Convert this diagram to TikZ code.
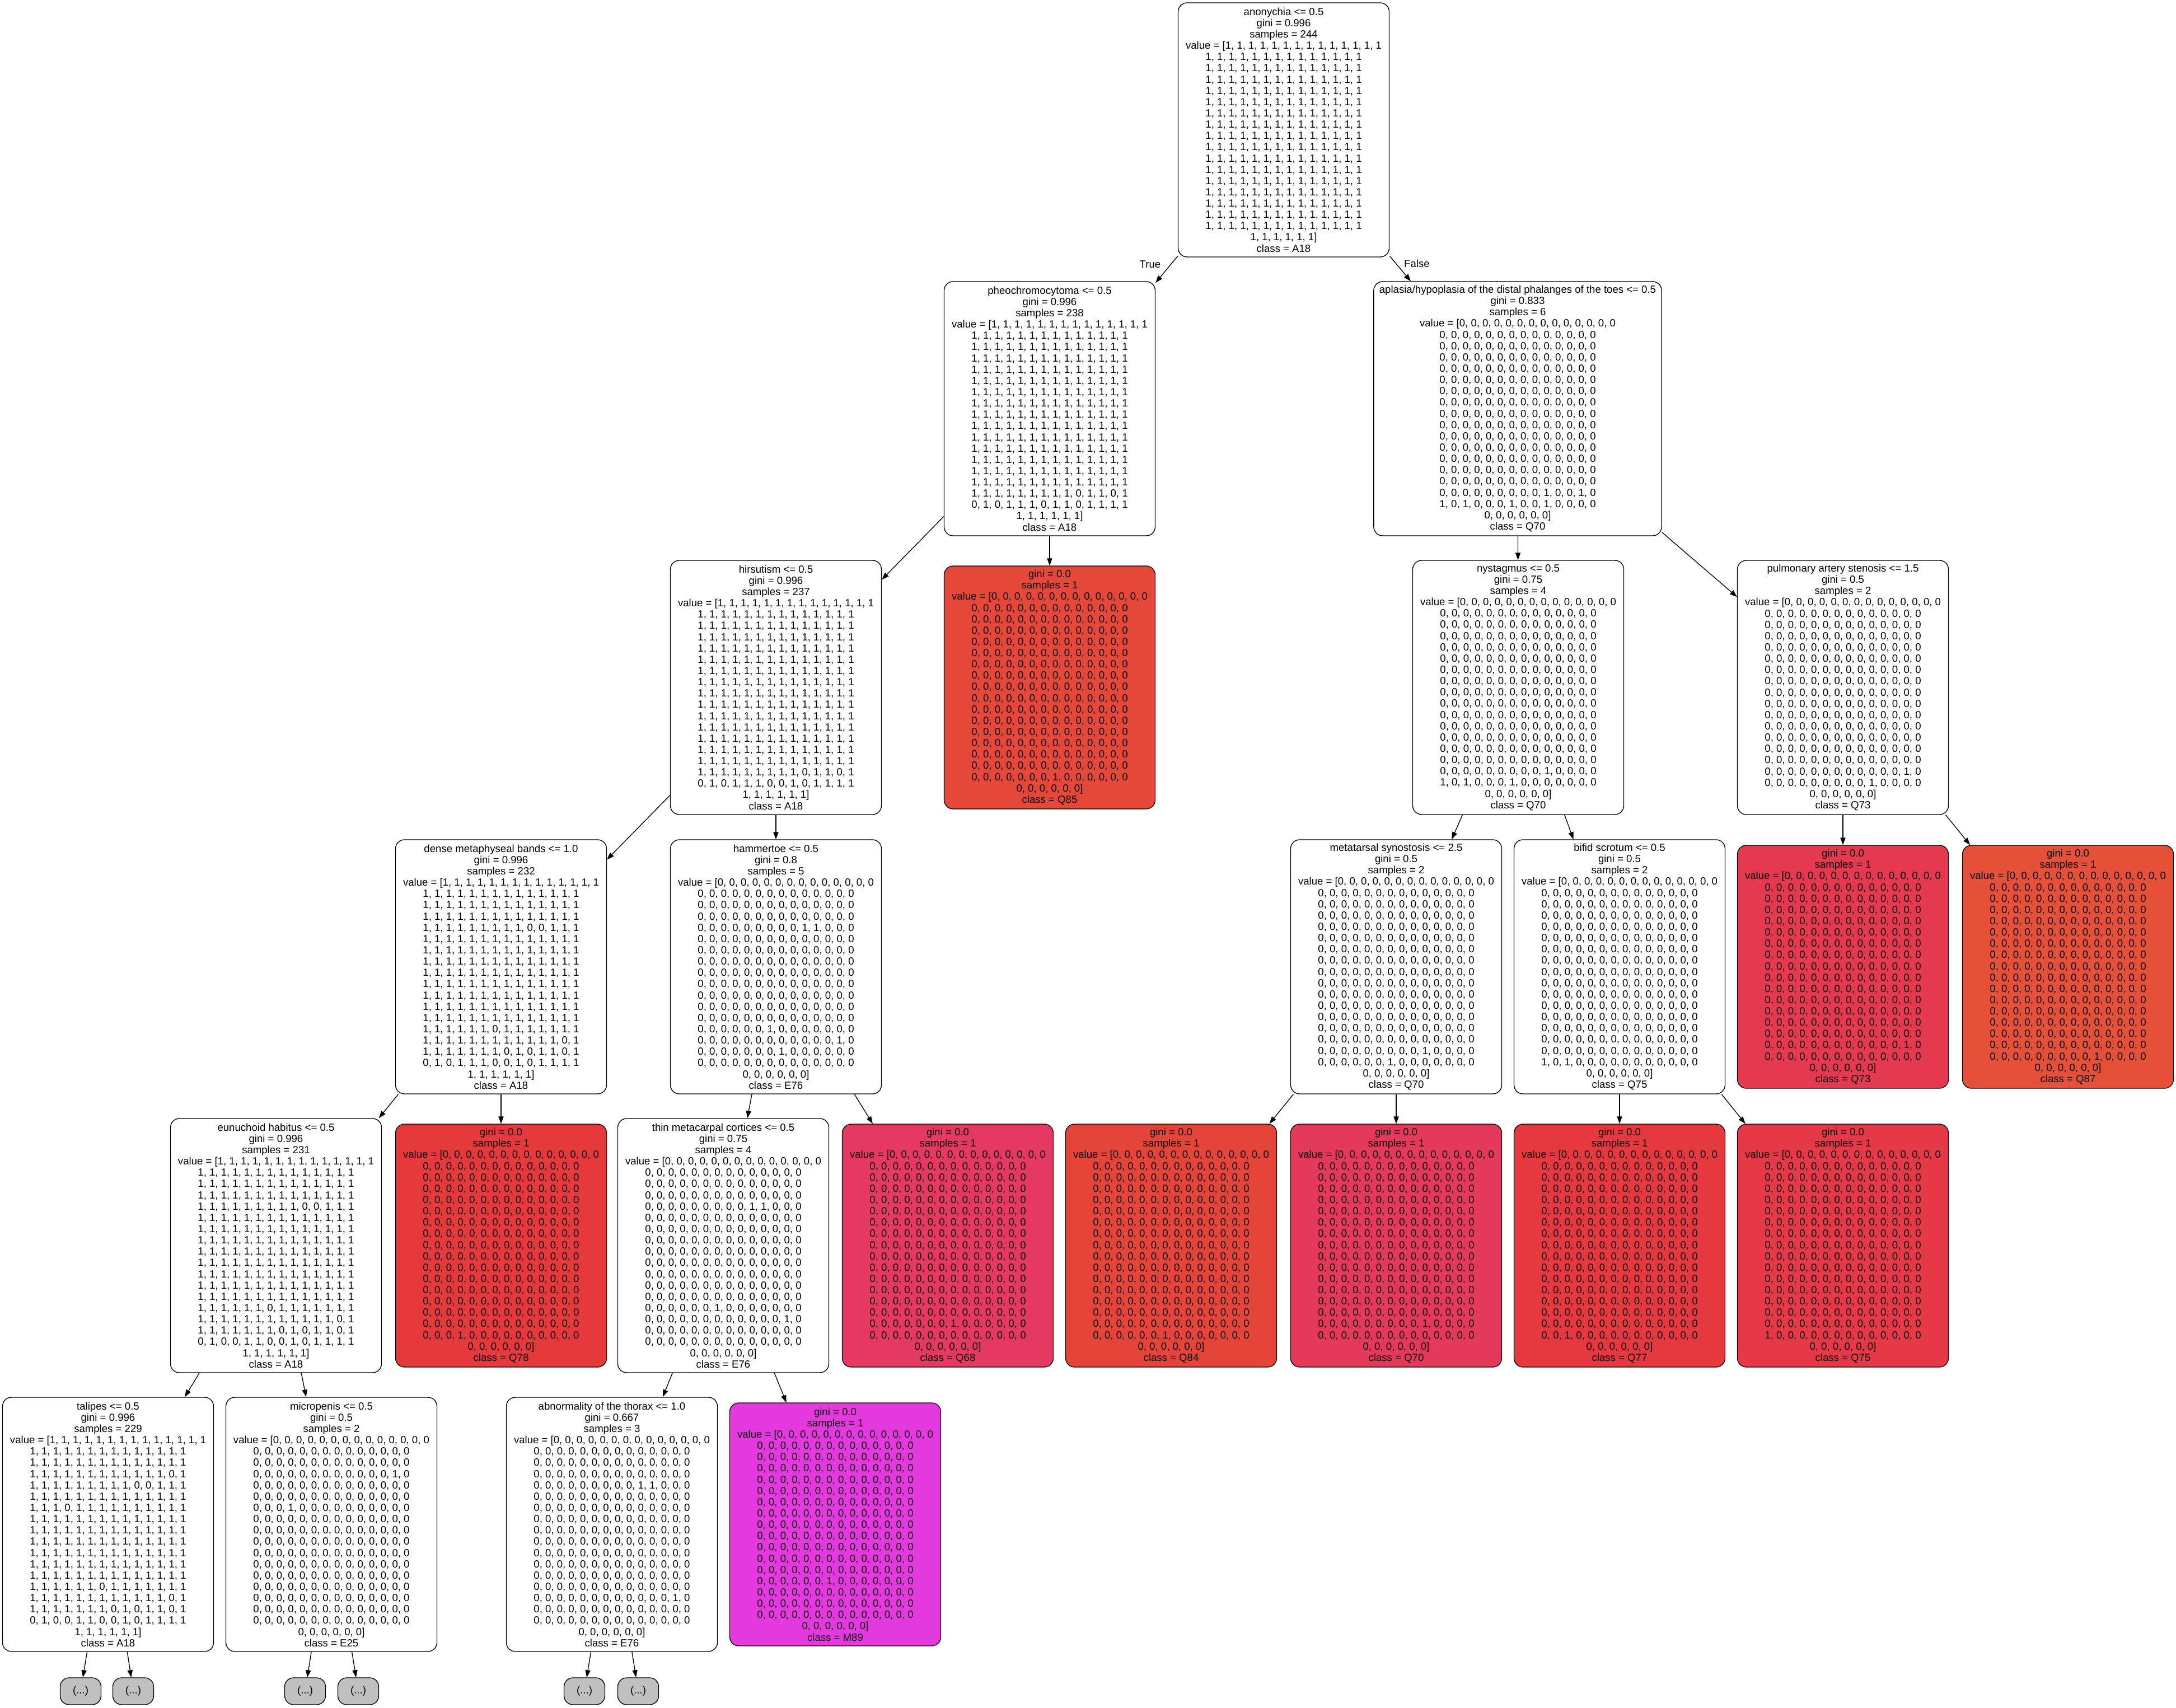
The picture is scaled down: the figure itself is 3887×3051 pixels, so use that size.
\documentclass[tikz,border=0pt]{standalone}
\usepackage{fontspec}
\setmainfont{Liberation Sans}
\usepackage{xcolor}
\usetikzlibrary{arrows.meta}

% class colours of the leaves
\definecolor{cQ68}{RGB}{229,57,100}
\definecolor{cQ70}{RGB}{229,57,92}
\definecolor{cQ73}{RGB}{229,57,80}
\definecolor{cQ75}{RGB}{229,57,72}
\definecolor{cQ77}{RGB}{229,57,63}
\definecolor{cQ78}{RGB}{229,57,60}
\definecolor{cQ84}{RGB}{229,69,57}
\definecolor{cQ85}{RGB}{229,72,57}
\definecolor{cQ87}{RGB}{229,80,57}
\definecolor{cM89}{RGB}{229,57,224}
\definecolor{truncgray}{RGB}{192,192,192}

% rows of the value arrays
\newcommand\orow{1, 1, 1, 1, 1, 1, 1, 1, 1, 1, 1, 1, 1, 1}
\newcommand\zrow{0, 0, 0, 0, 0, 0, 0, 0, 0, 0, 0, 0, 0, 0}
\newcommand\olast{1, 1, 1, 1, 1, 1]}
\newcommand\zlast{0, 0, 0, 0, 0, 0]}
\ExplSyntaxOn
\NewDocumentCommand\orows{m}{\prg_replicate:nn{#1}{\orow\\}}
\NewDocumentCommand\zrows{m}{\prg_replicate:nn{#1}{\zrow\\}}
\ExplSyntaxOff

\begin{document}
\begin{tikzpicture}[
        x=0.5pt, y=-0.5pt,
        every node/.style = {font=\fontsize{9.3}{10.07}\selectfont},
        decision/.style = {rectangle, draw=black, line width=0.67pt, rounded corners=8pt, fill=white, align=center, minimum width=188.5pt, minimum height=227pt, inner xsep=5pt, inner ysep=2pt},
        leafbox/.style = {decision, fill=#1, minimum height=217pt},
        morebox/.style = {rectangle, draw=black, line width=0.67pt, rounded corners=8pt, fill=truncgray, minimum width=36.5pt, minimum height=24pt, inner sep=1pt},
        link/.style = {line width=0.67pt, -{Triangle[length=6.5pt, width=4.6pt]}},
        branch/.style = {inner sep=1pt}
    ]
    \useasboundingbox (0,0) rectangle (3887,3051);

    % --- rank 0 and 1 ---
    \node[decision] (anonychia) at (2293,232) {anonychia <= 0.5\\gini = 0.996\\samples = 244\\value = [\orow\\\orows{16}\olast\\class = A18};

    \node[decision] (pheo) at (1875,730) {pheochromocytoma <= 0.5\\gini = 0.996\\samples = 238\\value = [\orow\\\orows{14}1, 1, 1, 1, 1, 1, 1, 1, 1, 0, 1, 1, 0, 1\\0, 1, 0, 1, 1, 1, 0, 1, 1, 0, 1, 1, 1, 1\\\olast\\class = A18};
    \node[decision] (aplasia) at (2711,730) {aplasia/hypoplasia of the distal phalanges of the toes <= 0.5\\gini = 0.833\\samples = 6\\value = [\zrow\\\zrows{14}0, 0, 0, 0, 0, 0, 0, 0, 0, 1, 0, 0, 1, 0\\1, 0, 1, 0, 0, 0, 1, 0, 0, 1, 0, 0, 0, 0\\\zlast\\class = Q70};

    % --- rank 2 ---
    \node[decision] (hirsutism) at (1386,1228) {hirsutism <= 0.5\\gini = 0.996\\samples = 237\\value = [\orow\\\orows{14}1, 1, 1, 1, 1, 1, 1, 1, 1, 0, 1, 1, 0, 1\\0, 1, 0, 1, 1, 1, 0, 0, 1, 0, 1, 1, 1, 1\\\olast\\class = A18};
    \node[leafbox=cQ85] (leafQ85) at (1875,1228) {gini = 0.0\\samples = 1\\value = [\zrow\\\zrows{15}0, 0, 0, 0, 0, 0, 0, 1, 0, 0, 0, 0, 0, 0\\\zlast\\class = Q85};
    \node[decision] (nystagmus) at (2712,1228) {nystagmus <= 0.5\\gini = 0.75\\samples = 4\\value = [\zrow\\\zrows{14}0, 0, 0, 0, 0, 0, 0, 0, 0, 1, 0, 0, 0, 0\\1, 0, 1, 0, 0, 0, 1, 0, 0, 0, 0, 0, 0, 0\\\zlast\\class = Q70};
    \node[decision] (pulmonary) at (3292,1228) {pulmonary artery stenosis <= 1.5\\gini = 0.5\\samples = 2\\value = [\zrow\\\zrows{14}0, 0, 0, 0, 0, 0, 0, 0, 0, 0, 0, 0, 1, 0\\0, 0, 0, 0, 0, 0, 0, 0, 0, 1, 0, 0, 0, 0\\\zlast\\class = Q73};

    % --- rank 3 ---
    \node[decision] (dense) at (895,1727) {dense metaphyseal bands <= 1.0\\gini = 0.996\\samples = 232\\value = [\orow\\\orows{3}1, 1, 1, 1, 1, 1, 1, 1, 1, 0, 0, 1, 1, 1\\\orows{8}1, 1, 1, 1, 1, 1, 0, 1, 1, 1, 1, 1, 1, 1\\1, 1, 1, 1, 1, 1, 1, 1, 1, 1, 1, 1, 0, 1\\1, 1, 1, 1, 1, 1, 1, 0, 1, 0, 1, 1, 0, 1\\0, 1, 0, 1, 1, 1, 0, 0, 1, 0, 1, 1, 1, 1\\\olast\\class = A18};
    \node[decision] (hammertoe) at (1386,1727) {hammertoe <= 0.5\\gini = 0.8\\samples = 5\\value = [\zrow\\\zrows{3}0, 0, 0, 0, 0, 0, 0, 0, 0, 1, 1, 0, 0, 0\\\zrows{8}0, 0, 0, 0, 0, 0, 1, 0, 0, 0, 0, 0, 0, 0\\0, 0, 0, 0, 0, 0, 0, 0, 0, 0, 0, 0, 1, 0\\0, 0, 0, 0, 0, 0, 0, 1, 0, 0, 0, 0, 0, 0\\\zrow\\\zlast\\class = E76};
    \node[decision] (metatarsal) at (2494,1727) {metatarsal synostosis <= 2.5\\gini = 0.5\\samples = 2\\value = [\zrow\\\zrows{14}0, 0, 0, 0, 0, 0, 0, 0, 0, 1, 0, 0, 0, 0\\0, 0, 0, 0, 0, 0, 1, 0, 0, 0, 0, 0, 0, 0\\\zlast\\class = Q70};
    \node[decision] (bifid) at (2893,1727) {bifid scrotum <= 0.5\\gini = 0.5\\samples = 2\\value = [\zrow\\\zrows{15}1, 0, 1, 0, 0, 0, 0, 0, 0, 0, 0, 0, 0, 0\\\zlast\\class = Q75};
    \node[leafbox=cQ73] (leafQ73) at (3292,1727) {gini = 0.0\\samples = 1\\value = [\zrow\\\zrows{14}0, 0, 0, 0, 0, 0, 0, 0, 0, 0, 0, 0, 1, 0\\\zrow\\\zlast\\class = Q73};
    \node[leafbox=cQ87] (leafQ87) at (3694,1727) {gini = 0.0\\samples = 1\\value = [\zrow\\\zrows{15}0, 0, 0, 0, 0, 0, 0, 0, 0, 1, 0, 0, 0, 0\\\zlast\\class = Q87};

    % --- rank 4 ---
    \node[decision] (eunuchoid) at (493,2225) {eunuchoid habitus <= 0.5\\gini = 0.996\\samples = 231\\value = [\orow\\\orows{3}1, 1, 1, 1, 1, 1, 1, 1, 1, 0, 0, 1, 1, 1\\\orows{8}1, 1, 1, 1, 1, 1, 0, 1, 1, 1, 1, 1, 1, 1\\1, 1, 1, 1, 1, 1, 1, 1, 1, 1, 1, 1, 0, 1\\1, 1, 1, 1, 1, 1, 1, 0, 1, 0, 1, 1, 0, 1\\0, 1, 0, 0, 1, 1, 0, 0, 1, 0, 1, 1, 1, 1\\\olast\\class = A18};
    \node[leafbox=cQ78] (leafQ78) at (895,2225) {gini = 0.0\\samples = 1\\value = [\zrow\\\zrows{15}0, 0, 0, 1, 0, 0, 0, 0, 0, 0, 0, 0, 0, 0\\\zlast\\class = Q78};
    \node[decision] (thin) at (1292,2225) {thin metacarpal cortices <= 0.5\\gini = 0.75\\samples = 4\\value = [\zrow\\\zrows{3}0, 0, 0, 0, 0, 0, 0, 0, 0, 1, 1, 0, 0, 0\\\zrows{8}0, 0, 0, 0, 0, 0, 1, 0, 0, 0, 0, 0, 0, 0\\0, 0, 0, 0, 0, 0, 0, 0, 0, 0, 0, 0, 1, 0\\\zrows{2}\zlast\\class = E76};
    \node[leafbox=cQ68] (leafQ68) at (1693,2225) {gini = 0.0\\samples = 1\\value = [\zrow\\\zrows{14}0, 0, 0, 0, 0, 0, 0, 1, 0, 0, 0, 0, 0, 0\\\zrow\\\zlast\\class = Q68};
    \node[leafbox=cQ84] (leafQ84) at (2092,2225) {gini = 0.0\\samples = 1\\value = [\zrow\\\zrows{15}0, 0, 0, 0, 0, 0, 1, 0, 0, 0, 0, 0, 0, 0\\\zlast\\class = Q84};
    \node[leafbox=cQ70] (leafQ70) at (2494,2225) {gini = 0.0\\samples = 1\\value = [\zrow\\\zrows{14}0, 0, 0, 0, 0, 0, 0, 0, 0, 1, 0, 0, 0, 0\\\zrow\\\zlast\\class = Q70};
    \node[leafbox=cQ77] (leafQ77) at (2893,2225) {gini = 0.0\\samples = 1\\value = [\zrow\\\zrows{15}0, 0, 1, 0, 0, 0, 0, 0, 0, 0, 0, 0, 0, 0\\\zlast\\class = Q77};
    \node[leafbox=cQ75] (leafQ75) at (3292,2225) {gini = 0.0\\samples = 1\\value = [\zrow\\\zrows{15}1, 0, 0, 0, 0, 0, 0, 0, 0, 0, 0, 0, 0, 0\\\zlast\\class = Q75};

    % --- rank 5 ---
    \node[decision] (talipes) at (193,2723) {talipes <= 0.5\\gini = 0.996\\samples = 229\\value = [\orow\\\orows{2}1, 1, 1, 1, 1, 1, 1, 1, 1, 1, 1, 1, 0, 1\\1, 1, 1, 1, 1, 1, 1, 1, 1, 0, 0, 1, 1, 1\\\orow\\1, 1, 1, 0, 1, 1, 1, 1, 1, 1, 1, 1, 1, 1\\\orows{6}1, 1, 1, 1, 1, 1, 0, 1, 1, 1, 1, 1, 1, 1\\1, 1, 1, 1, 1, 1, 1, 1, 1, 1, 1, 1, 0, 1\\1, 1, 1, 1, 1, 1, 1, 0, 1, 0, 1, 1, 0, 1\\0, 1, 0, 0, 1, 1, 0, 0, 1, 0, 1, 1, 1, 1\\\olast\\class = A18};
    \node[decision] (micropenis) at (592,2723) {micropenis <= 0.5\\gini = 0.5\\samples = 2\\value = [\zrow\\\zrows{2}0, 0, 0, 0, 0, 0, 0, 0, 0, 0, 0, 0, 1, 0\\\zrows{2}0, 0, 0, 1, 0, 0, 0, 0, 0, 0, 0, 0, 0, 0\\\zrows{10}\zlast\\class = E25};
    \node[decision] (thorax) at (1093,2723) {abnormality of the thorax <= 1.0\\gini = 0.667\\samples = 3\\value = [\zrow\\\zrows{3}0, 0, 0, 0, 0, 0, 0, 0, 0, 1, 1, 0, 0, 0\\\zrows{9}0, 0, 0, 0, 0, 0, 0, 0, 0, 0, 0, 0, 1, 0\\\zrows{2}\zlast\\class = E76};
    \node[leafbox=cM89] (leafM89) at (1492,2723) {gini = 0.0\\samples = 1\\value = [\zrow\\\zrows{12}0, 0, 0, 0, 0, 0, 1, 0, 0, 0, 0, 0, 0, 0\\\zrows{3}\zlast\\class = M89};

    % --- truncated branches ---
    \node[morebox] (more1) at (144,3021) {(...)};
    \node[morebox] (more2) at (238,3021) {(...)};
    \node[morebox] (more3) at (545,3021) {(...)};
    \node[morebox] (more4) at (640,3021) {(...)};
    \node[morebox] (more5) at (1044,3021) {(...)};
    \node[morebox] (more6) at (1140,3021) {(...)};

    % --- edges ---
    \draw[link] (anonychia) -- node[branch, pos=0.3, left=8pt] {True} (pheo);
    \draw[link] (anonychia) -- node[branch, pos=0.3, right=6pt] {False} (aplasia);
    \draw[link] (pheo) -- (hirsutism);
    \draw[link] (pheo) -- (leafQ85);
    \draw[link] (aplasia) -- (nystagmus);
    \draw[link] (aplasia) -- (pulmonary);
    \draw[link] (hirsutism) -- (dense);
    \draw[link] (hirsutism) -- (hammertoe);
    \draw[link] (nystagmus) -- (metatarsal);
    \draw[link] (nystagmus) -- (bifid);
    \draw[link] (pulmonary) -- (leafQ73);
    \draw[link] (pulmonary) -- (leafQ87);
    \draw[link] (dense) -- (eunuchoid);
    \draw[link] (dense) -- (leafQ78);
    \draw[link] (hammertoe) -- (thin);
    \draw[link] (hammertoe) -- (leafQ68);
    \draw[link] (metatarsal) -- (leafQ84);
    \draw[link] (metatarsal) -- (leafQ70);
    \draw[link] (bifid) -- (leafQ77);
    \draw[link] (bifid) -- (leafQ75);
    \draw[link] (eunuchoid) -- (talipes);
    \draw[link] (eunuchoid) -- (micropenis);
    \draw[link] (thin) -- (thorax);
    \draw[link] (thin) -- (leafM89);
    \draw[link] (talipes) -- (more1);
    \draw[link] (talipes) -- (more2);
    \draw[link] (micropenis) -- (more3);
    \draw[link] (micropenis) -- (more4);
    \draw[link] (thorax) -- (more5);
    \draw[link] (thorax) -- (more6);

\end{tikzpicture}
\end{document}
